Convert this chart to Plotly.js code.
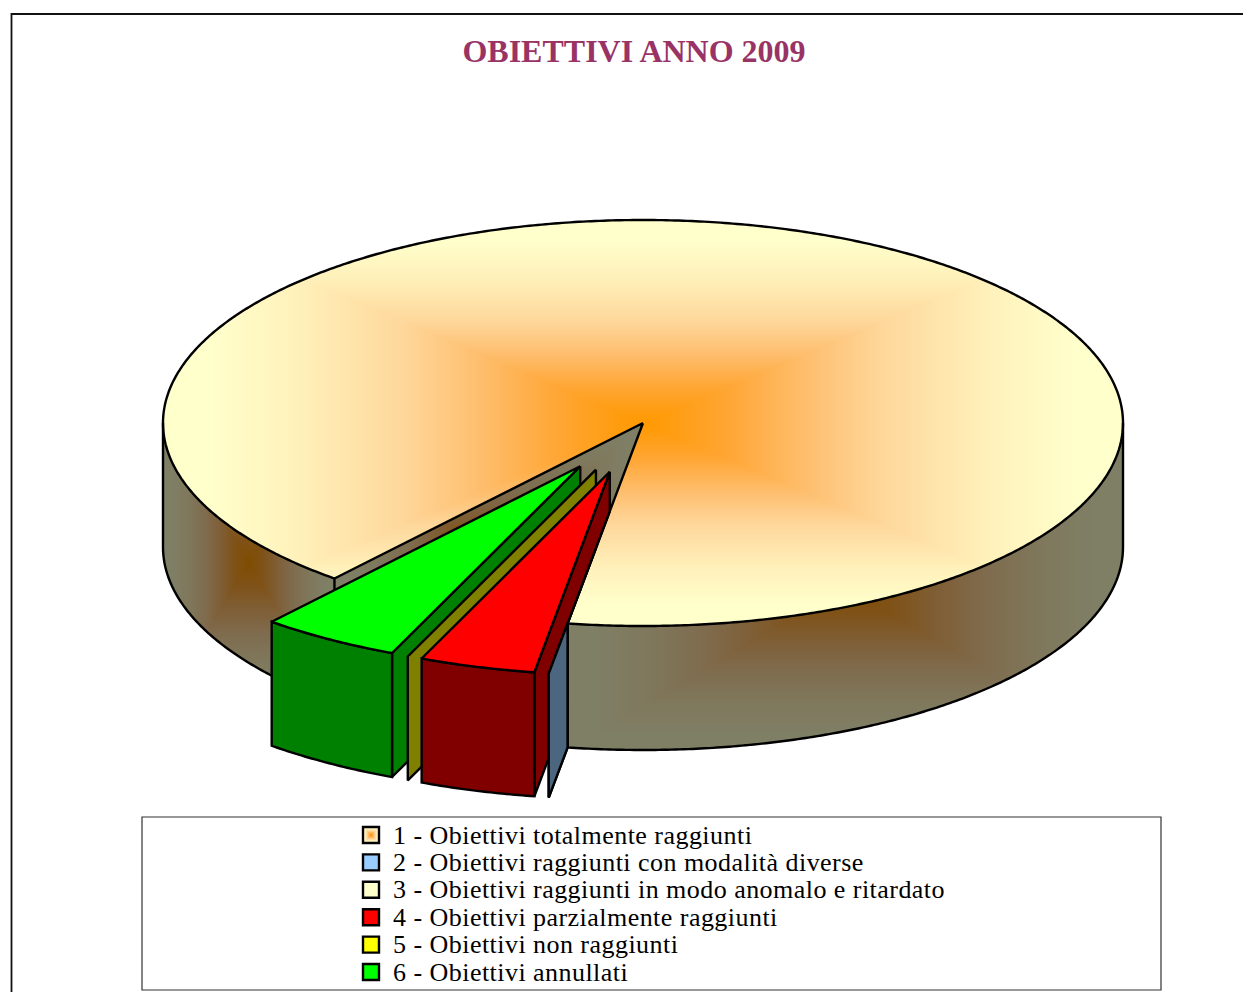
<!DOCTYPE html>
<html><head><meta charset="utf-8">
<script src="https://cdn.plot.ly/plotly-3.0.1.min.js"></script>
<style>html,body{margin:0;padding:0;background:#fff;overflow:hidden}
.annotation-text{letter-spacing:.46px}</style>
</head><body><div id="chart" style="width:1243px;height:992px"></div>
<script>
// ---- data ----
const titleText = 'OBIETTIVI ANNO 2009';
const categories = [
  '1 - Obiettivi totalmente raggiunti',
  '2 - Obiettivi raggiunti con modalità diverse',
  '3 - Obiettivi raggiunti in modo anomalo e ritardato',
  '4 - Obiettivi parzialmente raggiunti',
  '5 - Obiettivi non raggiunti',
  '6 - Obiettivi annullati'
];
const percentages = [91.4, 0, 0, 3.9, 0, 4.7];
const topColors  = [null, '#99ccff', '#ffffcc', '#ff0000', '#ffff00', '#00ff00'];
const sideColors = [null, '#4d6680', '#808066', '#800000', '#808000', '#008000'];

// ---- geometry of the pie ----
const cx = 643, cy = 423, rx = 480, ry = 203, depth = 124;
const firstAngle = 220, explode = 0.25, lineW = 2.4;
const rad = d => d * Math.PI / 180;
const pt = (a, ox = 0, oy = 0) => [cx + ox + rx * Math.sin(rad(a)), cy + oy - ry * Math.cos(rad(a))];

let acc = firstAngle;
const slices = percentages.map((p, i) => {
  const a0 = acc, a1 = acc + p * 3.6; acc = a1;
  const m = rad((a0 + a1) / 2);
  return { i, a0, a1, ox: explode * rx * Math.sin(m), oy: -explode * ry * Math.cos(m) };
});
const main = slices[0];
const mainEnd = main.a1 % 360;
const E = pt(mainEnd), S = pt(main.a0 % 360);

// ---- gradient (box gradient centred in the bounding box of each face) ----
const gradT = (x, y, b) => Math.min(1, Math.max(Math.abs(x - (b[0] + b[1]) / 2) / ((b[1] - b[0]) / 2),
                                               Math.abs(y - (b[2] + b[3]) / 2) / ((b[3] - b[2]) / 2)));
const stops = [[0,255,153,0],[.17,255,165,50],[.34,254,190,110],[.5,254,215,155],[.71,255,240,185],[.9,255,255,204],[1,255,255,204]];
const colorscale = [];
stops.forEach(s => colorscale.push([s[0] / 3, `rgb(${s[1]},${s[2]},${s[3]})`]));
stops.forEach(s => colorscale.push([(2 + s[0]) / 3, `rgb(${s[1]>>1},${s[2]>>1},${s[3]>>1})`]));

const bbTop = [cx - rx, cx + rx, cy - ry, cy + ry];
const bbLeft = [cx - rx, S[0], cy, S[1] + depth];
const bbRight = [E[0], cx + rx, cy, cy + ry + depth];
const bbCut = [S[0], cx, cy, S[1] + depth];

const X0 = cx - rx, X1 = cx + rx, Y0 = cy - ry, Y1 = cy + ry + depth;
const z = [];
for (let yi = Y0; yi < Y1; yi++) {
  const row = new Array(X1 - X0).fill(null);
  const y = yi + 0.5;
  for (let xi = X0; xi < X1; xi++) {
    const x = xi + 0.5, u = (x - cx) / rx, v = (y - cy) / ry;
    let val = null;
    if (u * u + v * v <= 1) {
      let a = Math.atan2(u, -v) * 180 / Math.PI; if (a < 0) a += 360;
      if (!(a > mainEnd && a < main.a0)) val = gradT(x, y, bbTop);
    }
    if (val === null && x >= S[0] && x <= cx) {
      const yt = cy + (S[1] - cy) * (cx - x) / (cx - S[0]);
      if (y >= yt && y <= yt + depth) val = 2 + gradT(x, y, bbCut);
    }
    if (val === null && Math.abs(u) < 1) {
      const ya = cy + ry * Math.sqrt(1 - u * u);
      if (y >= ya && y <= ya + depth) {
        if (x <= S[0]) val = 2 + gradT(x, y, bbLeft);
        else if (x >= E[0]) val = 2 + gradT(x, y, bbRight);
      }
    }
    row[xi - X0] = val;
  }
  z.push(row);
}

// ---- helpers ----
const arc = (a0, a1, ox = 0, oy = 0) => {
  const out = [], n = Math.max(2, Math.ceil(Math.abs(a1 - a0) * 2));
  for (let k = 0; k <= n; k++) out.push(pt(a0 + (a1 - a0) * k / n, ox, oy));
  return out;
};
const down = pts => pts.map(p => [p[0], p[1] + depth]);
const poly = (pts, fill, name) => ({
  type: 'scatter', mode: 'lines', x: pts.map(p => p && p[0]), y: pts.map(p => p && p[1]),
  fill: fill ? 'toself' : 'none', fillcolor: fill || undefined,
  line: { color: '#000', width: lineW, simplify: false }, hoverinfo: 'skip', showlegend: false, name: name || ''
});
// keep the part of a convex polygon lying left of the main slice's inner edge
const leftOfEdge = p => (E[0] - cx) * (p[1] - cy) - (E[1] - cy) * (p[0] - cx) >= 0;
const cross = (a, b, c, d) => {
  const den = (a[0]-b[0])*(c[1]-d[1]) - (a[1]-b[1])*(c[0]-d[0]);
  const t = ((a[0]-c[0])*(c[1]-d[1]) - (a[1]-c[1])*(c[0]-d[0])) / den;
  return [a[0] + t*(b[0]-a[0]), a[1] + t*(b[1]-a[1])];
};
const clipEdge = pts => {
  const out = [], A = [cx, cy];
  pts.forEach((p, i) => {
    const q = pts[(i + 1) % pts.length];
    const ip = leftOfEdge(p), iq = leftOfEdge(q);
    if (ip) out.push(p);
    if (ip !== iq) out.push(cross(p, q, A, E));
  });
  return out;
};
const closed = pts => pts.concat([pts[0]]);
const sideWall = (s, a) => {
  const ap = [cx + s.ox, cy + s.oy], o = pt(a, s.ox, s.oy);
  return [ap, o, [o[0], o[1] + depth], [ap[0], ap[1] + depth]];
};
const front = s => { const t = arc(s.a0, s.a1, s.ox, s.oy); return t.concat(down(t).reverse()); };
const topFace = s => [[cx + s.ox, cy + s.oy]].concat(arc(s.a0, s.a1, s.ox, s.oy));

// ---- legend swatch gradient ----
const legendTop = 835, legendStep = 27.4, swX = 363, swS = 16, legendTextX = 391;
const swZ = [], swBB = [swX, swX + swS, legendTop - swS / 2, legendTop + swS / 2];
for (let j = 0; j < swS; j++) {
  const r = [];
  for (let k = 0; k < swS; k++) r.push(gradT(swX + k + .5, swBB[2] + j + .5, swBB));
  swZ.push(r);
}

// ---- traces, painted back to front ----
const traces = [];
traces.push({ type: 'heatmap', x0: X0 + .5, dx: 1, y0: Y0 + .5, dy: 1, z, zmin: 0, zmax: 3, colorscale,
  showscale: false, hoverinfo: 'skip', zsmooth: false, name: categories[0] });
traces.push({ type: 'heatmap', x0: swX + .5, dx: 1, y0: swBB[2] + .5, dy: 1, z: swZ, zmin: 0, zmax: 3, colorscale,
  showscale: false, hoverinfo: 'skip', name: 'swatch' });

// main slice outlines
const mainTop = [[cx, cy]].concat(arc(main.a0, main.a1)).concat([[cx, cy]]);
traces.push(poly(mainTop, null, categories[0]));
const leftBottom = down(arc(270, main.a0));
traces.push(poly([pt(270)].concat(leftBottom).concat([S]), null));
const rightBottom = down(arc(90, mainEnd));
traces.push(poly([pt(90)].concat(rightBottom).concat([E]), null));

const green = slices[5], yellow = slices[4], red = slices[3], pale = slices[2], blue = slices[1];

// green and yellow inner walls
traces.push(poly(closed(clipEdge(sideWall(green, green.a0))), sideColors[5], categories[5]));
traces.push(poly(closed(clipEdge(sideWall(yellow, yellow.a0))), sideColors[4], categories[4]));
traces.push(poly(closed(front(green)), sideColors[5], categories[5]));
traces.push(poly(closed(topFace(green)), topColors[5], categories[5]));

// red inner wall: stops at the main slice
{
  const w = sideWall(red, red.a0);   // apex, outer top, outer bottom, apex bottom
  const b = cross(w[0], w[3], [cx, cy], E);
  const f = cross(w[2], w[3], E, [E[0], E[1] + depth]);
  traces.push(poly(closed([w[0], w[1], w[2], f, E, b]), sideColors[3], categories[3]));
}
// zero-size slices 3 and 2: wall only, in front of the red wall, up to the main slice's face
[pale, blue].forEach(s => {
  const w = sideWall(s, s.a0);
  const t = cross(w[0], w[1], E, [E[0], E[1] + depth]);
  const f = cross(w[3], w[2], E, [E[0], E[1] + depth]);
  traces.push(poly(closed([t, w[1], w[2], f]), sideColors[s.i], categories[s.i]));
});
traces.push(poly(closed(front(red)), sideColors[3], categories[3]));
traces.push(poly(closed(topFace(red)), topColors[3], categories[3]));

// ---- legend ----
const legendBox = { x0: 142, x1: 1161, y0: 817, y1: 990 };
const shapes = [
  { type: 'rect', xref: 'x', yref: 'y', x0: 11.5, x1: 1300, y0: 14, y1: 1100, line: { color: '#111', width: 1.8 }, layer: 'below' },
  { type: 'rect', xref: 'x', yref: 'y', ...legendBox, line: { color: '#333', width: 1.2 }, layer: 'below' }
];
const annotations = categories.map((c, i) => ({
  xref: 'x', yref: 'y', x: legendTextX, y: legendTop + i * legendStep, text: c, showarrow: false,
  xanchor: 'left', yanchor: 'middle', align: 'left',
  font: { family: '"Liberation Serif", serif', size: 26, color: '#000' }
}));
categories.forEach((c, i) => {
  const y = legendTop + i * legendStep;
  shapes.push({ type: 'rect', xref: 'x', yref: 'y', x0: swX, x1: swX + swS, y0: y - swS / 2, y1: y + swS / 2,
    fillcolor: i === 0 ? 'rgba(0,0,0,0)' : topColors[i], line: { color: '#000', width: 2.4 }, layer: 'above' });
});

const layout = {
  width: 1243, height: 992, margin: { l: 0, r: 0, t: 0, b: 0 },
  paper_bgcolor: '#fff', plot_bgcolor: '#fff', showlegend: false,
  title: { text: '<b>' + titleText + '</b>', x: 634 / 1243, xanchor: 'center', y: 1 - 51 / 992, yanchor: 'middle',
    font: { family: '"Liberation Serif", serif', size: 32, color: '#993366' } },
  xaxis: { range: [0, 1243], visible: false, fixedrange: true },
  yaxis: { range: [992, 0], visible: false, fixedrange: true },
  shapes, annotations
};
Plotly.newPlot('chart', traces, layout, { displayModeBar: false, staticPlot: true });
</script></body></html>
